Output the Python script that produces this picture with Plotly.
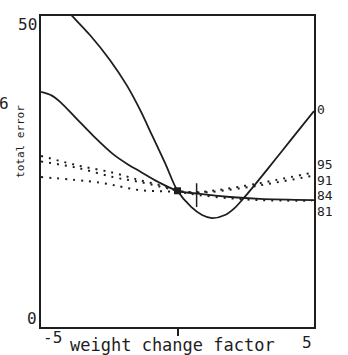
import plotly.graph_objects as go

# ---- data ----
curve0_x = [-4.3, -3.86, -3.2, -2.47, -1.85, -1.37, -0.93, -0.45, 0.0, 0.5, 0.9, 1.26, 1.74, 2.11, 2.36, 2.84, 3.32, 3.83, 4.41, 5.0]
curve0_y = [52.0, 50.0, 46.9, 42.9, 38.8, 34.9, 30.8, 26.3, 21.9, 19.3, 18.0, 17.5, 18.0, 19.2, 20.4, 22.9, 25.5, 28.3, 31.5, 34.7]

curve84_x = [-5.0, -4.6, -4.3, -3.7, -3.1, -2.36, -1.8, -1.37, -0.7, 0.0, 0.82, 1.92, 3.02, 5.0]
curve84_y = [37.8, 37.2, 36.2, 33.5, 30.8, 27.8, 26.1, 25.0, 23.3, 21.9, 21.4, 20.9, 20.6, 20.4]

curve95_x = [-5.0, -3.68, -2.36, -1.37, -0.38, 0.0, 0.75, 2.47, 3.57, 4.93]
curve95_y = [27.5, 26.0, 24.8, 23.6, 22.5, 21.9, 21.7, 22.7, 23.6, 24.8]

curve91_x = [-5.0, -3.68, -2.36, -1.37, -0.38, 0.0, 0.75, 2.47, 3.57, 4.93]
curve91_y = [26.6, 25.6, 24.1, 23.3, 22.3, 21.9, 21.6, 22.4, 23.2, 24.3]

curve81_x = [-5.0, -2.84, -1.37, 0.0, 0.8, 1.9, 3.0, 4.93]
curve81_y = [24.1, 23.2, 22.0, 21.7, 21.2, 20.7, 20.4, 20.3]

cross_x = [0.0]
cross_y = [21.9]
tick_mark_x = [0.7]
tick_mark_y = [21.2]

end_labels = ["0", "95", "91", "84", "81"]
end_label_y = [35.0, 26.1, 23.6, 21.1, 18.5]

y_tick_labels = ["50", "0"]
y_tick_vals = [50, 0]
x_tick_labels = ["-5", "5"]
x_tick_vals = [-5, 5]

x_title = "weight change factor"
y_title = "total error"
side_label = "6"

# ---- figure ----
ink = "#1e1e1e"
mono = "DejaVu Sans Mono"
fig = go.Figure()

fig.add_trace(go.Scatter(x=curve0_x, y=curve0_y, mode="lines",
                         line=dict(color=ink, width=1.8, shape="spline", smoothing=0.9),
                         showlegend=False))
fig.add_trace(go.Scatter(x=curve84_x, y=curve84_y, mode="lines",
                         line=dict(color=ink, width=1.8, shape="spline", smoothing=0.9),
                         showlegend=False))
for xs, ys in [(curve95_x, curve95_y), (curve91_x, curve91_y), (curve81_x, curve81_y)]:
    fig.add_trace(go.Scatter(x=xs, y=ys, mode="lines",
                             line=dict(color=ink, width=2, shape="spline", dash="2px,6px"),
                             showlegend=False))

fig.add_trace(go.Scatter(x=cross_x, y=cross_y, mode="markers",
                         marker=dict(symbol="square", size=7, color=ink), showlegend=False))
fig.add_trace(go.Scatter(x=tick_mark_x, y=tick_mark_y, mode="markers",
                         marker=dict(symbol="line-ns", size=17, line=dict(color=ink, width=1.5)),
                         showlegend=False))

annotations = []
for lab, yv in zip(end_labels, end_label_y):
    annotations.append(dict(x=1, xref="paper", y=yv, yref="y", text=lab, showarrow=False,
                            xanchor="left", yanchor="middle", xshift=1,
                            font=dict(family=mono, size=13, color=ink)))
for lab, yv in zip(y_tick_labels, y_tick_vals):
    annotations.append(dict(x=0, xref="paper", y=yv, yref="y", text=lab, showarrow=False,
                            xanchor="right", yanchor="top" if yv == 50 else "bottom",
                            xshift=-2, yshift=3 if yv == 50 else -3,
                            font=dict(family=mono, size=16, color=ink)))
for lab, xv in zip(x_tick_labels, x_tick_vals):
    annotations.append(dict(x=xv, xref="x", y=0, yref="paper", text=lab, showarrow=False,
                            xanchor="left" if xv < 0 else "right", yanchor="top",
                            yshift=1 if xv < 0 else -4,
                            font=dict(family=mono, size=16, color=ink)))
annotations.append(dict(x=0.48, xref="paper", y=-28 / 311, yref="paper", text=x_title,
                        showarrow=False, xanchor="center", yanchor="bottom", yshift=-2,
                        font=dict(family=mono, size=17, color=ink)))
annotations.append(dict(x=-0.077, xref="paper", y=(327 - 141) / 311, yref="paper", text=y_title,
                        showarrow=False, textangle=-90, xanchor="center", yanchor="middle",
                        font=dict(family=mono, size=11, color=ink)))
annotations.append(dict(x=-44 / 273, xref="paper", y=(327 - 103) / 311, yref="paper",
                        text=side_label, showarrow=False, xanchor="left", yanchor="middle",
                        font=dict(family=mono, size=16, color=ink)))
fig.update_layout(annotations=annotations)

fig.update_layout(
    width=348, height=355,
    margin=dict(l=41, r=34, t=16, b=28),
    paper_bgcolor="white", plot_bgcolor="white",
    xaxis=dict(range=[-5, 5], showgrid=False, zeroline=False, showline=True, mirror=True,
               linecolor=ink, linewidth=2, tickvals=[0], ticktext=[""], ticks="outside",
               ticklen=7, tickwidth=1.5, tickcolor=ink),
    yaxis=dict(range=[0, 50], showgrid=False, zeroline=False, showline=True, mirror=True,
               linecolor=ink, linewidth=2, showticklabels=False, ticks=""),
)

fig.write_html("out.html")
